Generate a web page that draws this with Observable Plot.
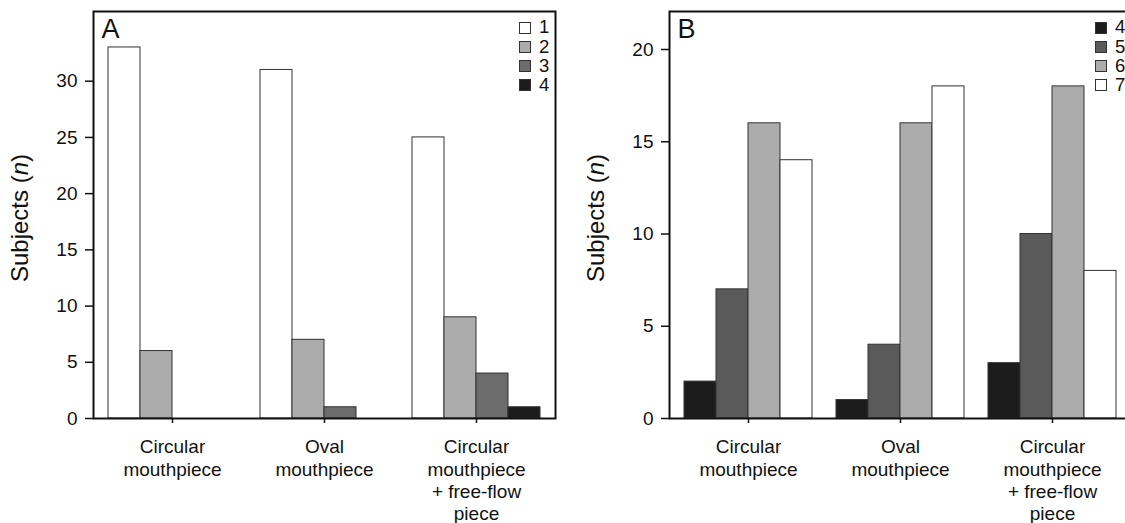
<!DOCTYPE html>
<html><head><meta charset="utf-8">
<script src="https://cdn.jsdelivr.net/npm/d3@7"></script>
<script src="https://cdn.jsdelivr.net/npm/@observablehq/plot@0.6"></script>
<style>
body{margin:0;background:#fff;font-family:"Liberation Sans",Arial,Helvetica,sans-serif;}
#root{position:relative;width:1125px;height:523px;overflow:hidden;background:#fff;}
.panel{position:absolute;top:0;width:560px;height:523px;}
.panel svg{position:absolute;left:0;top:0;max-width:none !important;}
.ylabel{position:absolute;font-size:24px;white-space:nowrap;transform:translate(-50%,-50%) rotate(-90deg);color:#111;line-height:1;}
.legend{position:absolute;left:519px;top:18px;font-size:18.5px;color:#111;line-height:1;}
.legend .row{display:flex;align-items:center;height:19.2px;}
.legend .sw{width:10px;height:10px;border:1px solid #333;margin-right:8px;box-sizing:content-box;}
</style></head>
<body><div id="root"></div>
<script>
// ---- data ----
const groups = ["Circular\nmouthpiece", "Oval\nmouthpiece", "Circular\nmouthpiece\n+ free-flow\npiece"];
const seriesA = ["1", "2", "3", "4"];
const circularA = [33, 6, 0, 0];
const ovalA = [31, 7, 1, 0];
const freeFlowA = [25, 9, 4, 1];
const yTicksA = [0, 5, 10, 15, 20, 25, 30];

const seriesB = ["4", "5", "6", "7"];
const circularB = [2, 7, 16, 14];
const ovalB = [1, 4, 16, 18];
const freeFlowB = [3, 10, 18, 8];
const yTicksB = [0, 5, 10, 15, 20];

const colorsA = ["#ffffff", "#acacac", "#6c6c6c", "#1c1c1c"];
const colorsB = ["#1c1c1c", "#5a5a5a", "#acacac", "#ffffff"];

const FONT = '"Liberation Sans", Arial, Helvetica, sans-serif';
const root = document.getElementById("root");

function makePanel(left, letter, series, groupValues, colors, yMax, yTicks) {
  const rows = groups.flatMap((g, gi) => series.map((s, si) => ({group: g, series: s, value: groupValues[gi][si]})));
  const div = document.createElement("div");
  div.className = "panel";
  div.style.left = left + "px";
  root.appendChild(div);
  const dims = {width: 560, height: 523, marginLeft: 93, marginRight: 5, marginTop: 11, marginBottom: 105};
  const main = Plot.plot({
    ...dims,
    style: {fontFamily: FONT, fontSize: "19px", color: "#111", background: "transparent", overflow: "visible"},
    fx: {domain: groups, paddingInner: 0.158, paddingOuter: 0.0987, label: null},
    x: {domain: series, padding: 0, axis: null},
    y: {domain: [0, yMax], axis: null},
    color: {domain: series, range: colors},
    marks: [
      Plot.barY(rows, {fx: "group", x: "series", y: "value", fill: "series", stroke: "#333", strokeWidth: 1}),
      Plot.axisFx({anchor: "bottom", tickSize: 5, tickPadding: 14, label: null, lineHeight: 1.17, fontSize: 19, strokeWidth: 1.5})
    ]
  });
  div.appendChild(main);
  const overlay = Plot.plot({
    ...dims,
    style: {fontFamily: FONT, fontSize: "19px", color: "#111", background: "transparent", overflow: "visible"},
    y: {domain: [0, yMax]},
    marks: [
      Plot.frame({stroke: "#111", strokeWidth: 2}),
      Plot.axisY({ticks: yTicks, tickSize: 8, tickPadding: 8, label: null, fontSize: 19, strokeWidth: 1.5}),
      Plot.text([letter], {frameAnchor: "top-left", dx: 8, dy: 7, lineAnchor: "top", fontSize: 27})
    ]
  });
  div.appendChild(overlay);
  const yl = document.createElement("div");
  yl.className = "ylabel";
  yl.style.left = "20px";
  yl.style.top = "218px";
  yl.innerHTML = "Subjects (<i>n</i>)";
  div.appendChild(yl);
  const lg = document.createElement("div");
  lg.className = "legend";
  series.forEach((s, i) => {
    const r = document.createElement("div");
    r.className = "row";
    const sw = document.createElement("span");
    sw.className = "sw";
    sw.style.background = colors[i];
    const t = document.createElement("span");
    t.textContent = s;
    r.appendChild(sw); r.appendChild(t);
    lg.appendChild(r);
  });
  div.appendChild(lg);
}

makePanel(0, "A", seriesA, [circularA, ovalA, freeFlowA], colorsA, 36.2, yTicksA);
makePanel(576, "B", seriesB, [circularB, ovalB, freeFlowB], colorsB, 22.06, yTicksB);
</script>
</body></html>
